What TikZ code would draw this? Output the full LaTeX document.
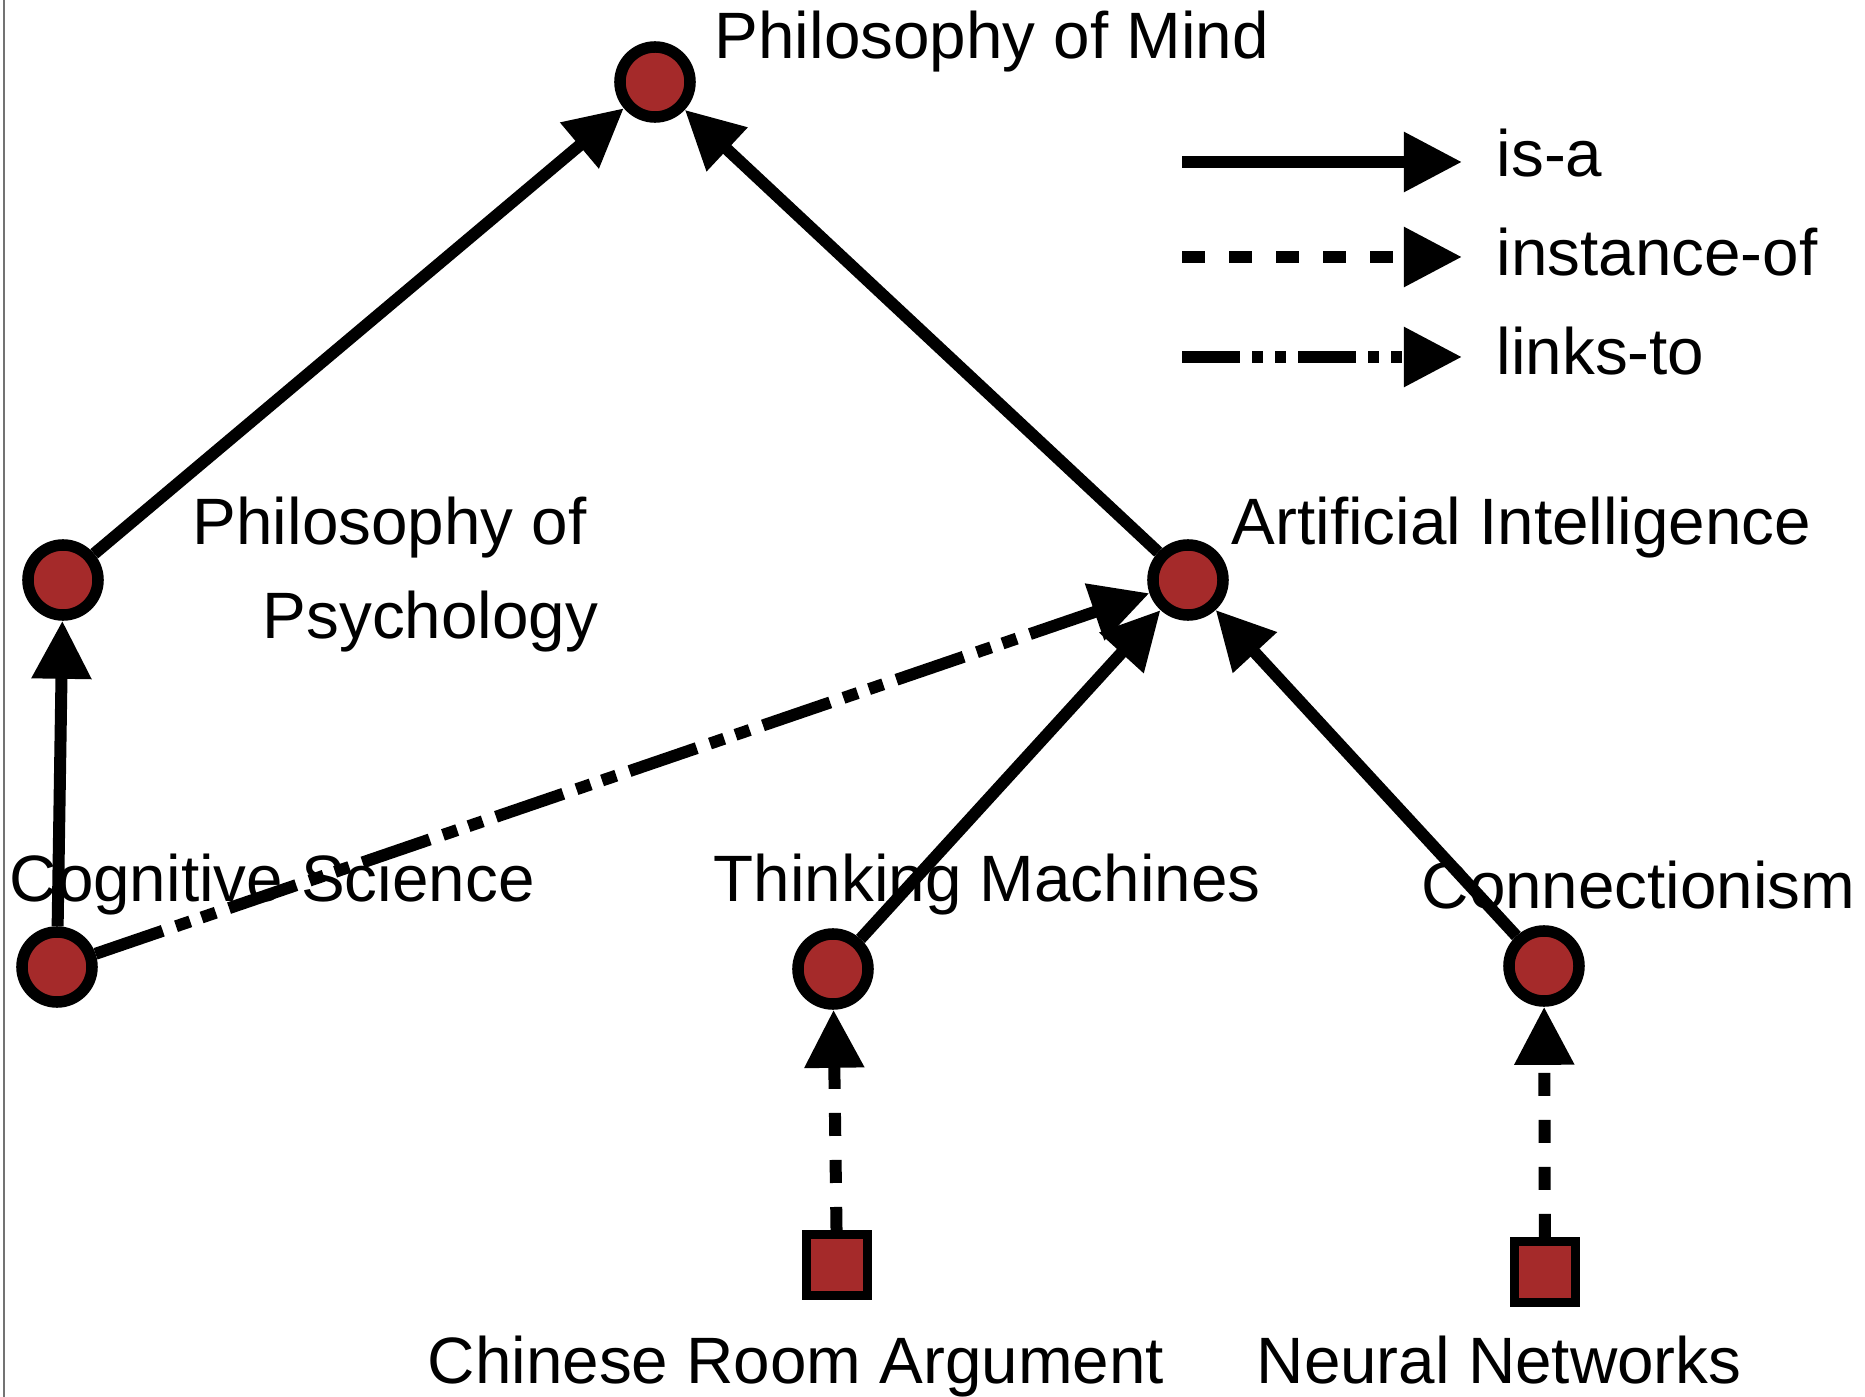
\documentclass[tikz,border=0pt]{standalone}
\usepackage{fontspec}
\setmainfont{Liberation Sans}
\usetikzlibrary{arrows.meta}
\definecolor{nodered}{RGB}{165,42,42}
\begin{document}
\begin{tikzpicture}[x=0.01cm,y=-0.01cm,
  concept/.style={circle,draw=black,fill=nodered,line width=0.115cm,minimum size=0.7cm,inner sep=0pt},
  inst/.style={rectangle,draw=black,fill=nodered,line width=0.09cm,minimum size=0.61cm,inner sep=0pt},
  lbl/.style={anchor=base west,inner sep=0pt,font=\fontsize{18.65pt}{22pt}\selectfont},
  rel/.style={line width=0.12cm,-{Triangle[length=0.58cm,width=0.57cm]}},
  isa/.style={rel},
  instof/.style={rel,dash pattern=on 0.23cm off 0.24cm},
  linksto/.style={rel,dash pattern=on 0.71cm off 0.14cm on 0.15cm off 0.12cm on 0.15cm off 0.14cm},
  legendlinks/.style={rel,dash pattern=on 0.58cm off 0.12cm on 0.11cm off 0.12cm on 0.11cm off 0.12cm},
  frameline/.style={draw=black!55,line width=0.027cm},
]
\useasboundingbox (0,0) rectangle (1865,1397);
\draw[frameline] (4,0) -- (4,1397);

% labels
\node[lbl] (lPoM) at (714,59) {Philosophy of Mind};
\node[lbl] (lPoP1) at (192,545) {Philosophy of};
\node[lbl] (lPoP2) at (262,639) {Psychology};
\node[lbl] (lAI) at (1231,545) {Artificial Intelligence};
\node[lbl] (lCS) at (9,902) {Cognitive Science};
\node[lbl] (lTM) at (713,902) {Thinking Machines};
\node[lbl] (lCo) at (1421,909) {Connectionism};
\node[lbl] (lCRA) at (427,1383) {Chinese Room Argument};
\node[lbl] (lNN) at (1256,1383) {Neural Networks};

% legend
\node[lbl] (lisa) at (1496,177) {is-a};
\node[lbl] (linst) at (1496,276) {instance-of};
\node[lbl] (llinks) at (1496,375) {links-to};
\coordinate (isaA) at (1182,162);
\coordinate (isaB) at (1462,162);
\coordinate (instA) at (1182,257);
\coordinate (instB) at (1462,257);
\coordinate (linkA) at (1182,357);
\coordinate (linkB) at (1462,357);
\draw[isa] (isaA) -- (isaB);
\draw[instof] (instA) -- (instB);
\draw[legendlinks] (linkA) -- (linkB);

% nodes
\node[concept] (PoM) at (655,82) {};
\node[concept] (PoP) at (63,580) {};
\node[concept] (AI) at (1188,580) {};
\node[concept] (CS) at (57,967) {};
\node[concept] (TM) at (833,969) {};
\node[concept] (Co) at (1544,966) {};
\node[inst] (CRA) at (837,1265) {};
\node[inst] (NN) at (1545,1272) {};

% edges
\draw[isa] (PoP) -- (PoM);
\draw[isa] (AI) -- (PoM);
\draw[isa] (CS) -- (PoP);
\draw[linksto] (CS) -- (AI);
\draw[isa] (TM) -- (AI);
\draw[isa] (Co) -- (AI);
\draw[instof] (CRA) -- (TM);
\draw[instof] (NN) -- (Co);
\end{tikzpicture}
\end{document}
